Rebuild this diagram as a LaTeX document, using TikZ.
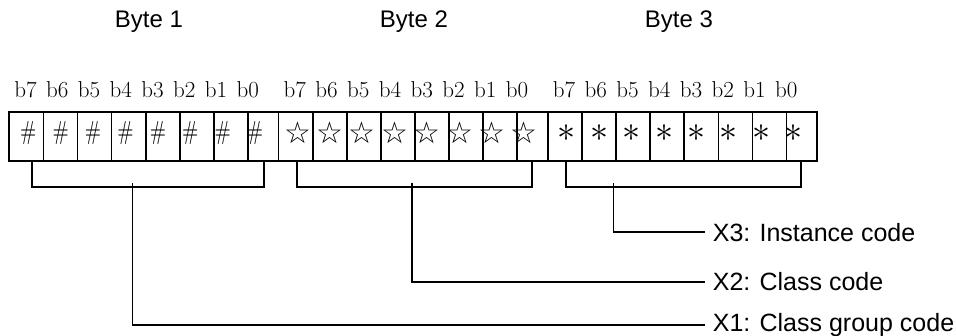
\documentclass[tikz,border=0pt]{standalone}
\usepackage{fontspec}
\usepackage{graphicx}
\newfontfamily\lsans{Liberation Sans}
\newfontfamily\djv{DejaVu Sans}
\newcommand\bytesym[1]{\ifcase#1\scalebox{1.95}[2.6]{\#}\or\scalebox{3.0}{\djv ☆}\or\scalebox{3.6}{$\ast$}\fi}
\begin{document}
\begin{tikzpicture}[x=1pt,y=-1pt,line width=1.7pt,
  cell/.style={draw,rectangle,minimum height=49pt,inner sep=0pt,outer sep=0pt},
  bitlbl/.style={font=\fontsize{23}{23}\selectfont,anchor=base,inner sep=0pt},
  bytelbl/.style={font=\lsans\fontsize{24}{28}\selectfont,inner sep=0pt},
  codelbl/.style={font=\lsans\fontsize{25}{30}\selectfont,anchor=west,inner sep=7pt},
  sym/.style={inner sep=0pt}]
\useasboundingbox (0,0) rectangle (956,335);
% byte labels
\node[bytelbl] (by1) at (149,22) {Byte 1};
\node[bytelbl] (by2) at (414,22) {Byte 2};
\node[bytelbl] (by3) at (679,22) {Byte 3};
% cells, symbols, bit labels
\foreach \b in {0,1,2} {
  \pgfmathsetmacro\xo{9.3+269.3*\b}
  \foreach \i in {0,...,6} {
    \node[cell,minimum width=34.1pt] (c\b-\i) at (\xo+17.05+34.1*\i,136.5) {};
  }
  \node[cell,minimum width=30.6pt] (c\b-7) at (\xo+238.7+15.3,136.5) {};
  \foreach \i in {0,...,7} {
    \pgfmathtruncatemacro\n{7-\i}
    \node[sym] (s\b-\i) at (\xo+19+32.4*\i,133) {\bytesym{\b}};
    \node[bitlbl] (t\b-\i) at (\xo+16.2+31.75*\i,97) {b\n};
  }
}
% bracket end points
\coordinate (bl0) at (32.3,161);  \coordinate (br0) at (264,161);
\coordinate (bl1) at (296.7,161); \coordinate (br1) at (532.3,161);
\coordinate (bl2) at (565.7,161); \coordinate (br2) at (801,161);
\foreach \b in {0,1,2} {
  \draw (bl\b) -- ++(0,25.7) -| (br\b);
}
% code labels
\node[codelbl] (x3) at (705,232.3) {X3: Instance code};
\node[codelbl] (x2) at (705,281.7) {X2: Class code};
\node[codelbl] (x1) at (705,325) {X1: Class group code};
% stems
\coordinate (k1) at (132.5,183);
\coordinate (k2) at (411.7,183);
\coordinate (k3) at (613.5,183);
\draw (k1) |- (x1.west);
\draw (k2) |- (x2.west);
\draw (k3) |- (x3.west);
\end{tikzpicture}
\end{document}
